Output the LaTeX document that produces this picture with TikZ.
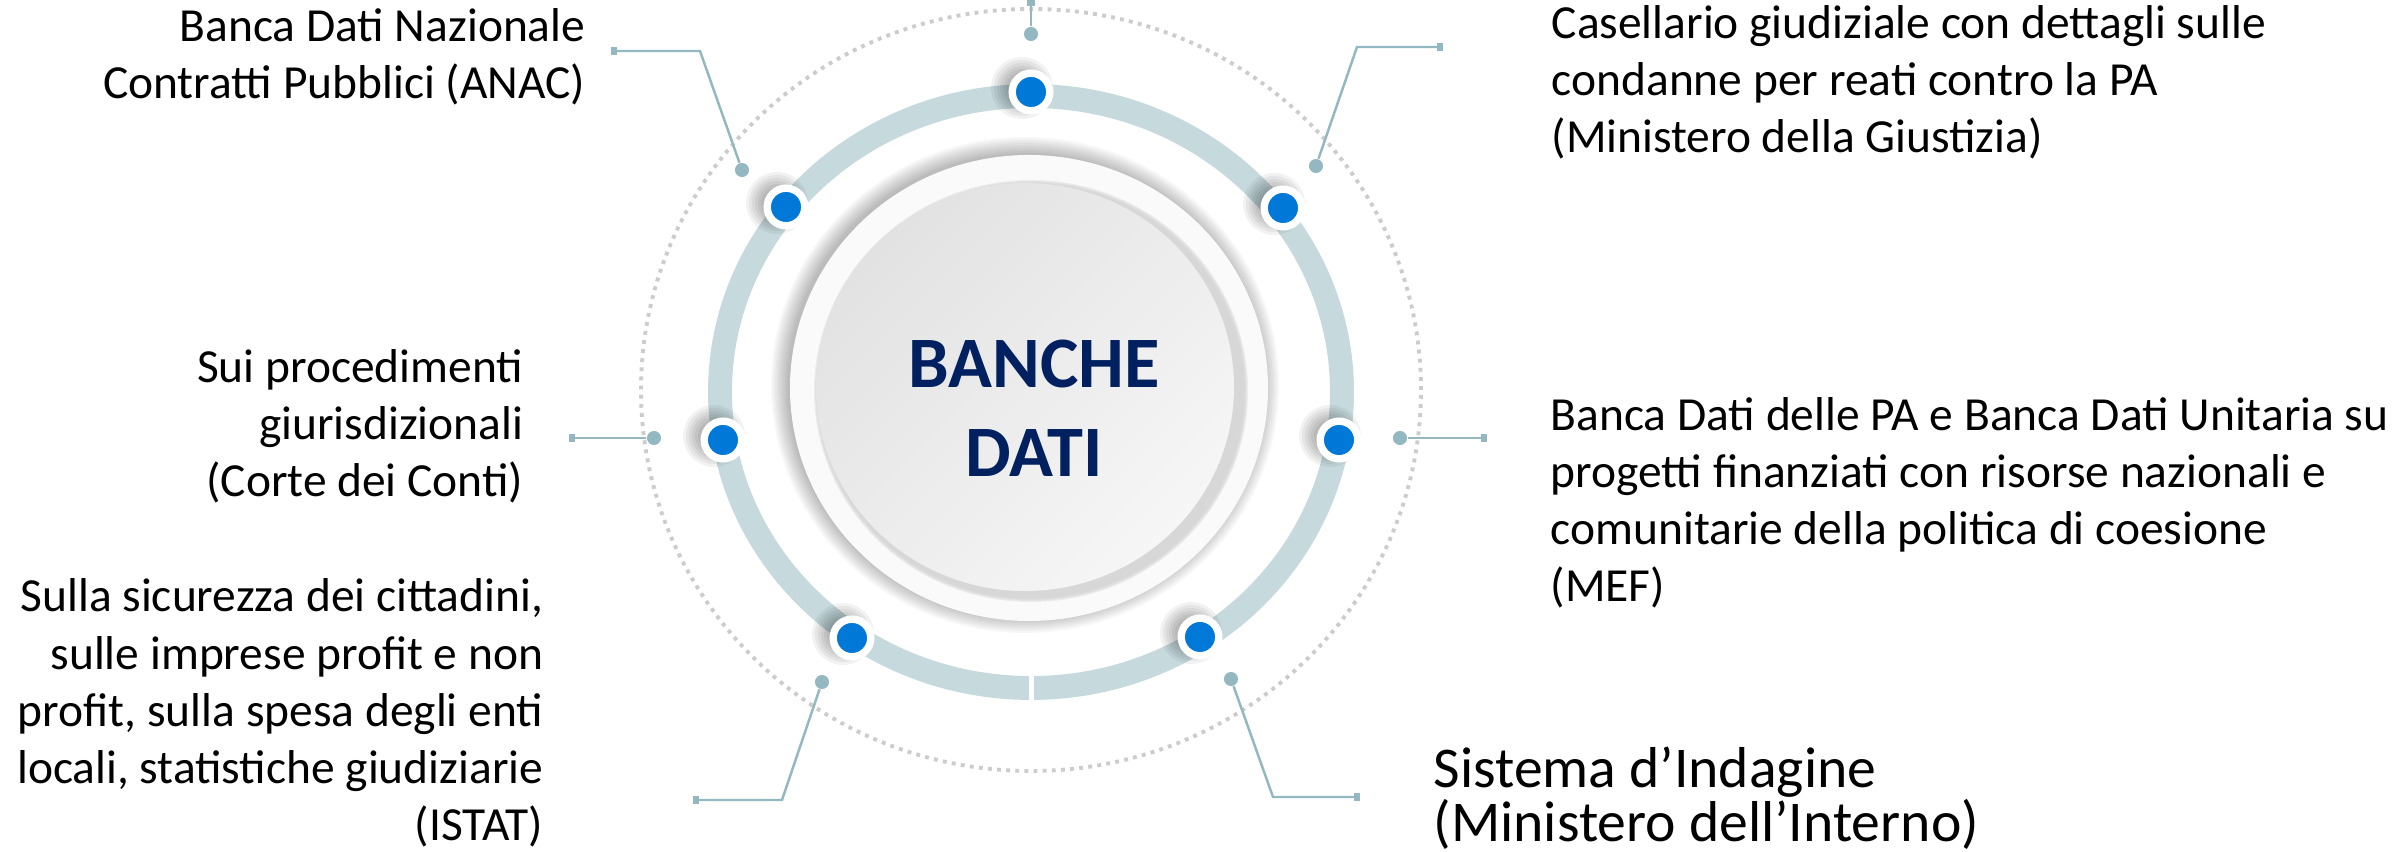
\documentclass[tikz,border=0pt]{standalone}
\usepackage{fontspec}
\setmainfont{Carlito}
\usepackage{tikz}
\usetikzlibrary{arrows.meta, positioning, calc}
\definecolor{ringteal}{HTML}{C6DADE}
\definecolor{linkteal}{HTML}{93B8C1}
\definecolor{hubblue}{HTML}{0078D7}
\definecolor{titlenavy}{HTML}{002060}
\definecolor{dashgray}{HTML}{CCCCCC}
\definecolor{facedark}{HTML}{E2E2E2}
\definecolor{facelight}{HTML}{F6F6F6}
\definecolor{crescent}{HTML}{D4D4D4}

\tikzset{
  hub/.style={circle, fill=hubblue, draw=white, line width=2.1pt, minimum size=10.7pt, inner sep=0pt},
  pin/.style={circle, fill=linkteal, minimum size=4pt, inner sep=0pt},
  link/.style={linkteal, line width=0.7pt, -{Square[length=1.8pt,width=2.4pt]}},
  lbl/.style={font=\fontsize{13.5}{16.3}\selectfont, inner sep=0pt},
}

\begin{document}
\begin{tikzpicture}[x=0.01cm, y=0.01cm]
  \useasboundingbox (0,0) rectangle (2405,852);
  \fill[white] (0,0) rectangle (2405,852);

  % Outer dashed orbit
  \draw[dashgray, line width=1.1pt, dash pattern=on 1.1pt off 1.5pt] (1031,462) ellipse [x radius=390, y radius=381];

  % Ring band, open at the bottom
  \draw[ringteal, line width=6.8pt] (1031,460) ellipse [x radius=311, y radius=296];
  \fill[white] (1029,146) rectangle (1034,182);

  % Central disk: soft shadow, rim and inset face
  \foreach \k in {1,...,9}
    \fill[black, opacity=0.03] (1025,467) ellipse [x radius=236+2*\k, y radius=230+2*\k];
  \fill[white!98!black] (1029,464) ellipse [x radius=239, y radius=233];
  \foreach \k in {0,...,4}
    \fill[crescent, opacity=0.35] (1031,461) ellipse [x radius=217-\k, y radius=211-\k];
  \shade[top color=facedark, bottom color=facelight, shading angle=45] (1025,465) ellipse [x radius=209, y radius=204];

  % Title
  \node[font=\fontsize{20.6}{25.3}\selectfont\bfseries, text=titlenavy, align=center, inner sep=0pt] (title) at (1034,444) {BANCHE\\DATI};

  % Hubs on the ring
  \foreach \nm/\px/\py in {top/1031/760, nw/786/645, ne/1283/644, w/723/412, e/1339/412, sw/852/214, se/1200/215} {
    \foreach \r in {13,16,...,31}
      \fill[black, opacity=0.05] (\px-9,\py+4) circle [radius=\r];
    \node[hub] (hub-\nm) at (\px,\py) {};
  }

  % Leader lines
  \foreach \nm/\ax/\ay/\bx/\by/\cx/\cy in {top/1031/818/1031/835/1031/852, nw/742/682/700/801/611/801, ne/1316/686/1357/805/1443/805, w/654/414/612/414/569/414, e/1400/414/1444/414/1487/414, sw/822/170/782/52/693/52, se/1231/173/1273/55/1360/55} {
    \node[pin] (pin-\nm) at (\ax,\ay) {};
    \coordinate (bend-\nm) at (\bx,\by);
    \coordinate (end-\nm) at (\cx,\cy);
    \draw[link] (pin-\nm) -- (bend-\nm) -- (end-\nm);
  }

  % Labels (anchored on the baseline of their last line)
  \node[lbl, align=right, anchor=base east] (anac) at (586,753) {Banca Dati Nazionale\\Contratti Pubblici (ANAC)};
  \node[lbl, align=left, anchor=base west] (giustizia) at (1551,699) {Casellario giudiziale con dettagli sulle\\condanne per reati contro la PA\\(Ministero della Giustizia)};
  \node[lbl, align=right, anchor=base east] (corte) at (524,355) {Sui procedimenti\\giurisdizionali\\(Corte dei Conti)};
  \node[lbl, align=right, anchor=base east] (istat) at (544,11) {Sulla sicurezza dei cittadini,\\sulle imprese profit e non\\profit, sulla spesa degli enti\\locali, statistiche giudiziarie\\(ISTAT)};
  \node[lbl, align=left, anchor=base west] (mef) at (1550,250) {Banca Dati delle PA e Banca Dati Unitaria su\\progetti finanziati con risorse nazionali e\\comunitarie della politica di coesione\\(MEF)};
  \node[lbl, font=\fontsize{16.4}{15.6}\selectfont, align=left, anchor=base west] (interno) at (1433,10) {Sistema d’Indagine\\(Ministero dell’Interno)};
\end{tikzpicture}
\end{document}
